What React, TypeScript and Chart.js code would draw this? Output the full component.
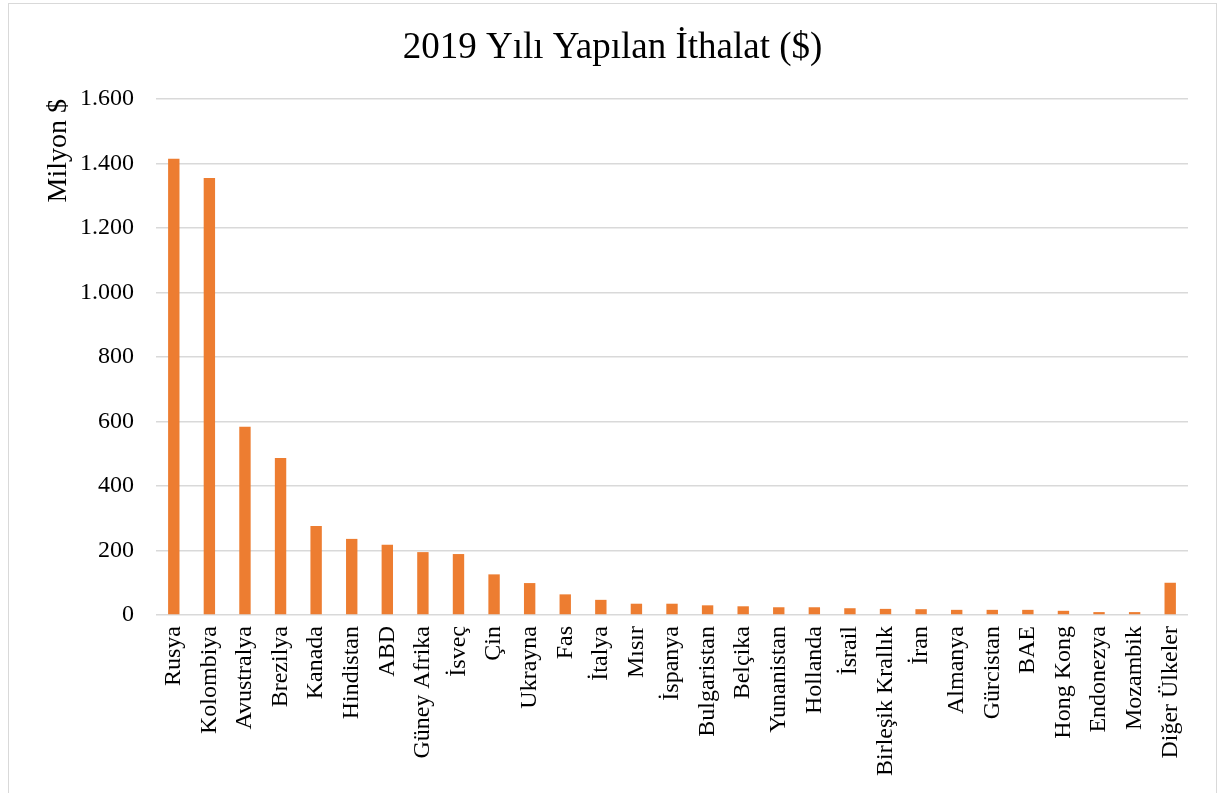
import React, { useEffect, useRef } from "react";
import Chart from "chart.js/auto";

const chartTitle = "2019 Yılı Yapılan İthalat ($)";
const yAxisTitle = "Milyon $";

const categories = [
  "Rusya", "Kolombiya", "Avustralya", "Brezilya", "Kanada", "Hindistan", "ABD",
  "Güney Afrika", "İsveç", "Çin", "Ukrayna", "Fas", "İtalya", "Mısır", "İspanya",
  "Bulgaristan", "Belçika", "Yunanistan", "Hollanda", "İsrail", "Birleşik Krallık",
  "İran", "Almanya", "Gürcistan", "BAE", "Hong Kong", "Endonezya", "Mozambik",
  "Diğer Ülkeler",
];

const values = [
  1415, 1355, 584, 487, 276, 236, 218,
  195, 189, 126, 99, 64, 47, 35, 35,
  30, 27, 24, 24, 21, 19,
  18, 16, 16, 16, 13, 9, 9,
  100,
];

const yMin = 0;
const yMax = 1600;
const yStep = 200;

const FONT = "'Liberation Serif', 'Times New Roman', serif";

function fmt(v: number): string {
  return String(Math.round(v)).replace(/\B(?=(\d{3})+(?!\d))/g, ".");
}

export default function App() {
  const ref = useRef<HTMLCanvasElement>(null);

  useEffect(() => {
    document.body.style.margin = "0";
    document.body.style.overflow = "hidden";
    const canvas = ref.current;
    if (!canvas) return;
    const chart = new Chart(canvas, {
      type: "bar",
      data: {
        labels: categories,
        datasets: [
          {
            data: values,
            backgroundColor: "#ED7D31",
            borderWidth: 0,
            barPercentage: 0.32,
            categoryPercentage: 1,
            yAxisID: "y",
          },
        ],
      },
      options: {
        responsive: false,
        animation: false,
        layout: { padding: { left: 0, right: 0, top: 0, bottom: 0 } },
        plugins: {
          legend: { display: false },
          tooltip: { enabled: false },
          title: {
            display: true,
            text: chartTitle,
            color: "#000",
            font: { family: FONT, size: 37, weight: "normal", lineHeight: 1.2 },
            padding: { top: 22, bottom: 28.6 },
          },
        },
        scales: {
          x: {
            grid: { display: false, drawTicks: false },
            border: { display: false },
            ticks: {
              color: "#000",
              font: { family: FONT, size: 24 },
              maxRotation: 90,
              minRotation: 90,
              autoSkip: false,
              padding: 11,
            },
            afterFit: (scale: any) => {
              scale.height = 178;
            },
          },
          y: {
            min: yMin,
            max: yMax,
            grid: { color: "#d9d9d9", lineWidth: 1.5, drawTicks: false },
            border: { display: false },
            ticks: {
              stepSize: yStep,
              color: "#000",
              font: { family: FONT, size: 24 },
              padding: 22,
              callback: (v: any) => fmt(Number(v)),
            },
            title: {
              display: true,
              text: yAxisTitle,
              align: "end",
              color: "#000",
              font: { family: FONT, size: 28, weight: "normal" },
              padding: { top: 33, bottom: 0 },
            },
            afterFit: (scale: any) => {
              scale.width = 147;
            },
          },
          spacer: {
            type: "linear",
            position: "right",
            display: true,
            min: yMin,
            max: yMax,
            grid: { display: false, drawTicks: false },
            border: { display: false },
            ticks: { display: false },
            afterFit: (scale: any) => {
              scale.width = 28;
            },
          },
        },
      },
    });
    return () => chart.destroy();
  }, []);

  return (
    <div
      style={{
        position: "absolute",
        left: 8,
        top: 3,
        width: 1207,
        height: 789,
        borderTop: "1px solid #d9d9d9",
        borderLeft: "1px solid #d9d9d9",
        borderRight: "1px solid #d9d9d9",
        background: "#fff",
      }}
    >
      <canvas ref={ref} width={1207} height={789} style={{ display: "block" }} />
    </div>
  );
}
